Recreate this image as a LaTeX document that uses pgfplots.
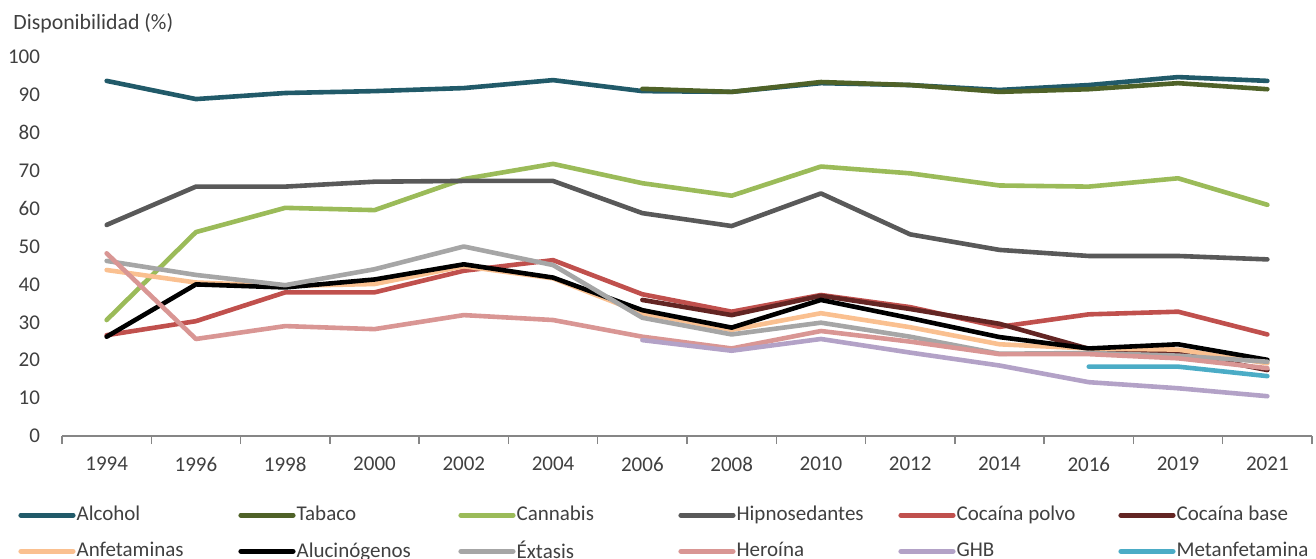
\documentclass[border=0pt]{standalone}
\usepackage{pgfplots}
\pgfplotsset{compat=1.18}
\usepackage{fontspec}
\setmainfont{Carlito}
\definecolor{cAlc}{HTML}{215A69}
\definecolor{cTab}{HTML}{4F6228}
\definecolor{cCan}{HTML}{9BBB59}
\definecolor{cHip}{HTML}{595959}
\definecolor{cCoP}{HTML}{C0504D}
\definecolor{cCoB}{HTML}{632523}
\definecolor{cAnf}{HTML}{FAC090}
\definecolor{cAlu}{HTML}{000000}
\definecolor{cExt}{HTML}{A6A6A6}
\definecolor{cHer}{HTML}{D99694}
\definecolor{cGHB}{HTML}{B3A2C7}
\definecolor{cMet}{HTML}{4BACC6}
\definecolor{axgray}{HTML}{868686}
\definecolor{txt}{HTML}{404040}
\begin{document}
\begin{tikzpicture}
\path[use as bounding box] (0,0) rectangle (658pt,279pt);
\begin{axis}[
  at={(31pt,61pt)}, anchor=south west,
  scale only axis, width=625pt, height=189.5pt,
  xmin=-0.5, xmax=13.5, ymin=0, ymax=100,
  xtick={0,...,13},
  xticklabels={1994,1996,1998,2000,2002,2004,2006,2008,2010,2012,2014,2016,2019,2021},
  ytick={0,10,...,100},
  axis x line*=bottom, axis y line*=left,
  y axis line style={draw=none},
  x axis line style={draw=axgray, line width=0.7pt},
  major tick length=0pt,
  extra x ticks={-0.5,0.5,...,13.5}, extra x tick labels={},
  extra x tick style={major tick length=4pt, tick align=outside, tick style={draw=axgray, line width=0.7pt}},
  /pgf/number format/assume math mode=true,
  ticklabel style={font=\fontsize{10.5}{12}\selectfont, text=txt},
  yticklabel style={xshift=-7.5pt},
  xticklabel style={yshift=-7pt},
  every axis plot/.append style={line width=2.3pt, line cap=round, line join=round},
  legend columns=6,
  legend cell align=left,
  legend style={at={(0,0)}, anchor=north west, xshift=-22pt, yshift=-33pt,
    draw=none, fill=none, inner sep=0pt, row sep=4.5pt, column sep=0pt,
    font=\fontsize{10.5}{12}\selectfont, text=txt,
    /tikz/every odd column/.append style={column sep=-1.5pt}},
  legend image code/.code={\draw[#1, line width=2.6pt, line cap=round] (0pt,0pt) -- (26pt,0pt);},
]
\addplot[cAlc] coordinates {(0,93.7)(1,88.9)(2,90.5)(3,91.0)(4,91.8)(5,93.9)(6,91.0)(7,90.8)(8,93.1)(9,92.6)(10,91.3)(11,92.6)(12,94.7)(13,93.7)};
\addlegendentry{\makebox[78.9pt][l]{Alcohol}}
\addplot[cTab] coordinates {(6,91.6)(7,90.8)(8,93.4)(9,92.6)(10,90.8)(11,91.5)(12,93.1)(13,91.5)};
\addlegendentry{\makebox[78.9pt][l]{Tabaco}}
\addplot[cCan] coordinates {(0,30.6)(1,53.8)(2,60.2)(3,59.6)(4,67.8)(5,71.8)(6,66.7)(7,63.4)(8,71.1)(9,69.3)(10,66.1)(11,65.8)(12,68.0)(13,61.0)};
\addlegendentry{\makebox[78.9pt][l]{Cannabis}}
\addplot[cHip] coordinates {(0,55.7)(1,65.8)(2,65.8)(3,67.1)(4,67.3)(5,67.3)(6,58.8)(7,55.4)(8,64.0)(9,53.2)(10,49.1)(11,47.5)(12,47.5)(13,46.6)};
\addlegendentry{\makebox[78.9pt][l]{Hipnosedantes}}
\addplot[cCoP] coordinates {(0,26.6)(1,30.3)(2,37.9)(3,37.9)(4,43.6)(5,46.4)(6,37.4)(7,32.8)(8,37.2)(9,34.0)(10,28.8)(11,32.1)(12,32.8)(13,26.8)};
\addlegendentry{\makebox[78.9pt][l]{Cocaína polvo}}
\addplot[cCoB] coordinates {(6,35.9)(7,31.9)(8,37.0)(9,33.5)(10,29.6)(11,23.0)(12,22.0)(13,17.4)};
\addlegendentry{\makebox[78.9pt][l]{Cocaína base}}
\addplot[cAnf] coordinates {(0,43.8)(1,40.5)(2,39.6)(3,40.1)(4,44.8)(5,41.6)(6,32.4)(7,28.0)(8,32.4)(9,28.7)(10,24.2)(11,23.1)(12,22.8)(13,19.2)};
\addlegendentry{\makebox[78.9pt][l]{Anfetaminas}}
\addplot[cAlu] coordinates {(0,26.2)(1,40.0)(2,39.2)(3,41.3)(4,45.3)(5,41.8)(6,33.2)(7,28.6)(8,35.9)(9,31.1)(10,26.1)(11,23.1)(12,24.2)(13,20.1)};
\addlegendentry{\makebox[78.9pt][l]{Alucinógenos}}
\addplot[cExt] coordinates {(0,46.2)(1,42.5)(2,39.8)(3,44.0)(4,50.0)(5,45.1)(6,31.2)(7,26.8)(8,29.9)(9,26.2)(10,21.7)(11,21.9)(12,21.2)(13,19.6)};
\addlegendentry{\makebox[78.9pt][l]{Éxtasis}}
\addplot[cHer] coordinates {(0,48.2)(1,25.6)(2,29.0)(3,28.2)(4,31.9)(5,30.6)(6,26.2)(7,23.1)(8,27.7)(9,24.9)(10,21.6)(11,21.6)(12,20.5)(13,17.9)};
\addlegendentry{\makebox[78.9pt][l]{Heroína}}
\addplot[cGHB] coordinates {(6,25.3)(7,22.5)(8,25.6)(9,22.0)(10,18.6)(11,14.2)(12,12.6)(13,10.5)};
\addlegendentry{\makebox[78.9pt][l]{GHB}}
\addplot[cMet] coordinates {(11,18.3)(12,18.3)(13,15.8)};
\addlegendentry{\makebox[78.9pt][l]{Metanfetamina}}
\end{axis}
\node[anchor=base west, inner sep=0pt, font=\fontsize{10.9}{13}\selectfont, text=txt] at (6.5pt,264.3pt) {Disponibilidad (\%)};
\end{tikzpicture}
\end{document}
